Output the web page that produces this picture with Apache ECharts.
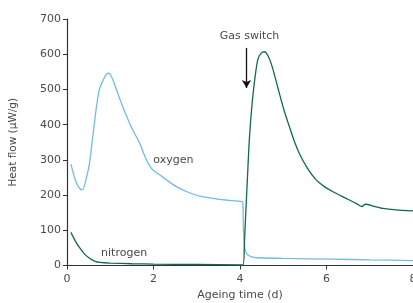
<!DOCTYPE html>
<html>
<head>
<meta charset="utf-8">
<script src="https://cdn.jsdelivr.net/npm/echarts@6/dist/echarts.min.js"></script>
<style>html,body{margin:0;padding:0;background:#fff}#c{width:413px;height:303px}</style>
</head>
<body>
<div id="c"></div>
<script>
const oxygenX = [0.09,0.2,0.3,0.36,0.45,0.52,0.6,0.68,0.75,0.85,0.95,1.0,1.1,1.2,1.38,1.5,1.68,1.8,1.91,2.0,2.15,2.3,2.53,2.8,3.07,3.3,3.53,3.8,4.06,4.08,4.12,4.18,4.3,4.41,5.0,6.14,7.0,8.0];
const oxygenY = [288,240,218,215,250,290,370,450,500,530,546,543,515,480,423,390,347,310,283,270,257,243,224,208,197,192,188,184,180,100,44,30,24,22,20,18,16,14];
const nitrogenX = [0.09,0.2,0.3,0.4,0.53,0.65,0.76,1.0,1.5,2.0,3.0,4.07,4.1,4.14,4.18,4.22,4.28,4.34,4.41,4.49,4.57,4.64,4.72,4.8,4.91,5.02,5.14,5.25,5.37,5.55,5.76,5.95,6.14,6.35,6.53,6.7,6.82,6.86,6.91,7.1,7.3,7.6,8.0];
const nitrogenY = [94,68,49,33,20,12,9,7,5,4,3,2,60,167,270,366,460,527,584,603,607,597,574,540,489,440,395,355,319,278,243,224,210,197,186,175,167,172,174,168,162,158,155];
const xTicks = [0,2,4,6,8];
const yTicks = [0,100,200,300,400,500,600,700];
const labels = {oxygen:[2.46,300], nitrogen:[1.32,35], gasSwitch:[4.22,650]};
const arrow = [[4.15,618],[4.15,504]];

const font = 'DejaVu Sans';
const txt = '#4a4a4a';
const zip = (xs, ys) => xs.map((x,i)=>[x, ys[i]]);

const chart = echarts.init(document.getElementById('c'), null, {renderer:'canvas'});
chart.setOption({
  animation:false,
  grid:{left:67, right:0, top:19, bottom:37.5, containLabel:false, outerBoundsMode:'none'},
  xAxis:{type:'value', min:xTicks[0], max:xTicks[xTicks.length-1], interval:2,
    name:'Ageing time (d)', nameLocation:'middle', nameGap:23,
    nameTextStyle:{fontFamily:font, fontSize:11, color:txt},
    axisLine:{lineStyle:{color:'#333', width:1.2}},
    axisTick:{show:true, length:4, lineStyle:{color:'#333'}},
    axisLabel:{fontFamily:font, fontSize:11, color:txt, margin:8, hideOverlap:false},
    splitLine:{show:false}},
  yAxis:{type:'value', min:yTicks[0], max:yTicks[yTicks.length-1], interval:100,
    name:'Heat flow (µW/g)', nameLocation:'middle', nameGap:48,
    nameTextStyle:{fontFamily:font, fontSize:10.5, color:txt},
    axisLine:{show:true, lineStyle:{color:'#333', width:1.2}},
    axisTick:{show:true, length:4, lineStyle:{color:'#333'}},
    axisLabel:{fontFamily:font, fontSize:11, color:txt, margin:6},
    splitLine:{show:false}},
  series:[
    {name:'oxygen', type:'line', data:zip(oxygenX, oxygenY), showSymbol:false, smooth:0.25,
     lineStyle:{color:'#72bbe9', width:1.3}, itemStyle:{color:'#72bbe9'},
     markPoint:{symbol:'circle', symbolSize:0, silent:true,
       label:{show:true, formatter:'oxygen', fontFamily:font, fontSize:11, color:txt},
       data:[{coord:labels.oxygen}]}},
    {name:'nitrogen', type:'line', data:zip(nitrogenX, nitrogenY), showSymbol:false, smooth:0.25,
     lineStyle:{color:'#0f6b47', width:1.3}, itemStyle:{color:'#0f6b47'},
     markPoint:{symbol:'circle', symbolSize:0, silent:true,
       label:{show:true, fontFamily:font, fontSize:11, color:txt, formatter:p=>p.name},
       data:[{name:'nitrogen', coord:labels.nitrogen},{name:'Gas switch', coord:labels.gasSwitch}]},
     markLine:{silent:true, symbol:['none','arrow'], symbolSize:[7,8],
       lineStyle:{color:'#111', width:1.3, type:'solid'}, label:{show:false},
       data:[[{coord:arrow[0]},{coord:arrow[1]}]]}}
  ]
});
</script>
</body>
</html>
